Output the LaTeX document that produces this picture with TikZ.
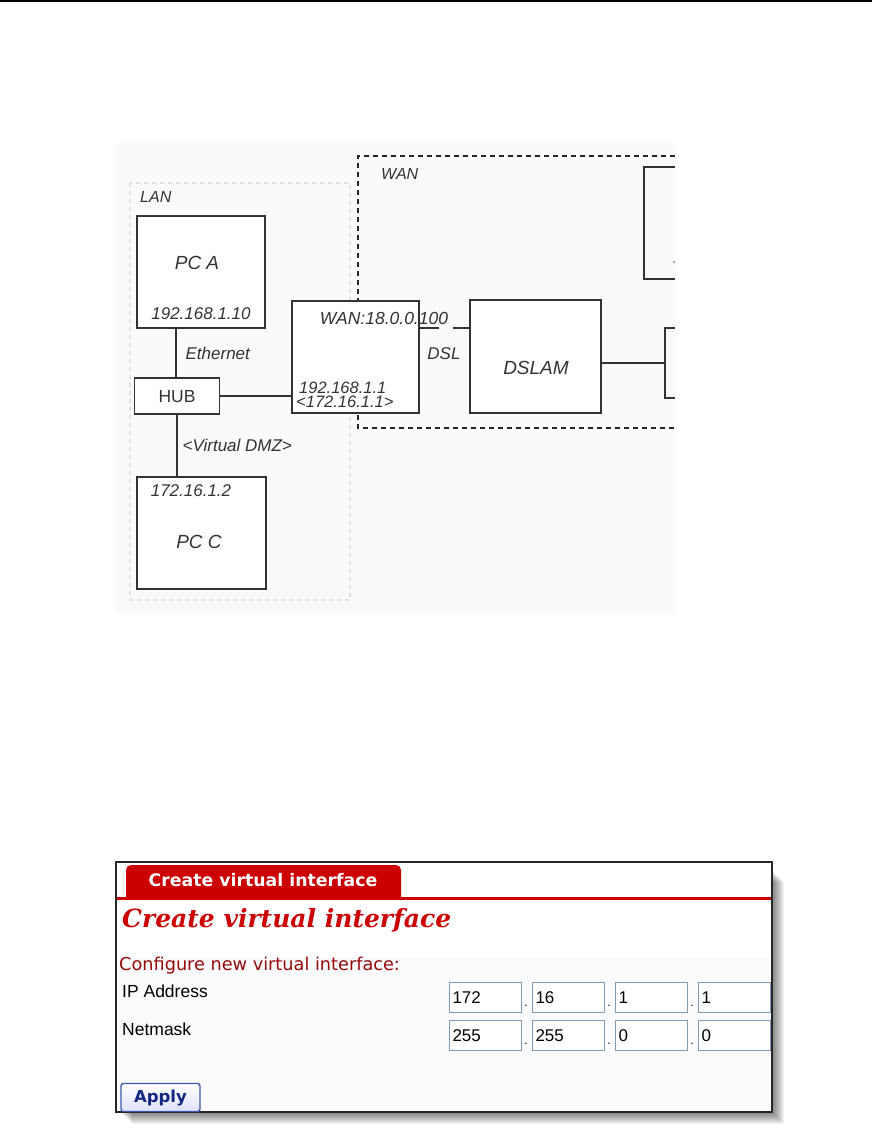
\documentclass[tikz,border=0pt]{standalone}
\usepackage{fontspec}
\setmainfont{Liberation Sans}
\newfontfamily\webfont{DejaVu Sans}
\newfontfamily\headfont{DejaVu Serif}
\usepackage{tikz}
\usetikzlibrary{positioning}
\definecolor{tabred}{RGB}{204,0,0}
\definecolor{darkred}{RGB}{150,10,10}
\definecolor{fieldblue}{RGB}{127,157,185}
\definecolor{btnblue}{RGB}{20,40,130}
\definecolor{btnedge}{RGB}{60,90,170}
\definecolor{panelbg}{RGB}{251,250,253}
\definecolor{diagbg}{RGB}{250,250,250}
\tikzset{
  dev/.style={draw=black!80, line width=1.3pt, fill=white, inner sep=0pt},
  wire/.style={black!80, line width=1.3pt},
  lbl/.style={font=\itshape\fontsize{17}{17}\selectfont, inner sep=0pt, text=black!80},
  big/.style={font=\itshape\fontsize{19}{19}\selectfont, inner sep=0pt, text=black!80},
  field/.style={draw=fieldblue, line width=1pt, fill=white, minimum width=72, minimum height=30,
    text width=66, align=left, inner sep=3pt, font=\fontsize{17}{17}\selectfont, anchor=north west},
  webtxt/.style={font=\fontsize{17.5}{17.5}\selectfont, inner sep=0pt, anchor=west}
}
\begin{document}
\begin{tikzpicture}[x=1pt,y=-1pt]
\useasboundingbox (0,0) rectangle (872,1135);
\draw[line width=2pt] (0,1) -- (872,1);

% network diagram
\fill[diagbg] (115,143) rectangle (675,613);
\draw[gray!25, line width=2.5pt, dash pattern=on 4pt off 4pt] (130,183) rectangle (350,600);
\draw[black!85, line width=1.4pt, dash pattern=on 5pt off 4pt] (675,156) -- (358,156) -- (358,428) -- (675,428);
\node[lbl, anchor=west, font=\itshape\fontsize{16}{16}\selectfont] (lan) at (140,197) {LAN};
\node[lbl, anchor=west, font=\itshape\fontsize{16}{16}\selectfont] (wan) at (381,174) {WAN};

\node[dev, minimum width=128, minimum height=112] (pca) at (201,272) {};
\node[big] (pcaname) at (197,263) {PC A};
\node[lbl] (pcaip) at (201,314) {192.168.1.10};

\node[dev, minimum width=85, minimum height=36] (hub) at (177,396) {};
\node[font=\fontsize{17.5}{17.5}\selectfont, inner sep=0pt, text=black!80] (hubname) at (177,397) {HUB};

\node[dev, minimum width=127, minimum height=112] (router) at (355.5,357) {};
\node[lbl, font=\itshape\fontsize{17.5}{17.5}\selectfont] (wanip) at (384,318) {WAN:18.0.0.100};
\node[lbl, align=left, anchor=west, font=\itshape\fontsize{16.5}{14.5}\selectfont] (lanip) at (296,395) {\hspace*{3pt}192.168.1.1\\<172.16.1.1>};

\node[dev, minimum width=131, minimum height=113] (dslam) at (535.5,356.5) {};
\node[big] (dslamname) at (536,368) {DSLAM};

\node[dev, minimum width=129, minimum height=112] (pcc) at (201.5,533) {};
\node[big] (pccname) at (199,542) {PC C};
\node[lbl] (pccip) at (191,491) {172.16.1.2};

\draw[wire] (pca.south -| 176,0) -- (hub.north -| 176,0) node[midway, right=9pt, lbl] (eth) {Ethernet};
\draw[wire] (hub.east) -- (hub.east -| router.west);
\draw[wire] (hub.south) -- (hub.south |- pcc.north) node[midway, right=5pt, lbl] (dmz) {<Virtual DMZ>};
\draw[wire, dash pattern=on 19pt off 14pt on 20pt] (router.east |- 0,328) -- (dslam.west |- 0,328);
\node[lbl] (dsl) at (444,354) {DSL};

% cut-off boxes at the right edge
\coordinate (brk) at (665,363);
\draw[wire] (dslam.east |- brk) -- (brk);
\draw[wire] (675,328) -| (665,398) -- (675,398);
\draw[wire] (675,167) -| (644,279) -- (675,279);
\fill[black!70] (674,262) circle (0.8pt);

% web form screenshot
\foreach \s in {1,...,12}{
  \fill[black, opacity=0.05] (120+\s,870+\s) rectangle (772+\s,1112+\s);
}
\fill[white] (116,862) rectangle (772,958);
\fill[panelbg] (116,958) rectangle (772,1112);

\fill[tabred] (126,899) {[rounded corners=5pt] -- (126,865) -- (401,865)} -- (401,899) -- cycle;
\node[font=\webfont\bfseries\fontsize{17.3}{17.3}\selectfont, text=white, inner sep=0pt] (tab) at (263,880) {Create virtual interface};
\draw[tabred, line width=3pt] (117,898) -- (771,898);
\node[font=\headfont\bfseries\itshape\fontsize{25}{25}\selectfont, text=tabred, inner sep=0pt, anchor=base west] (title) at (122,927) {Create virtual interface};
\node[font=\webfont\fontsize{17.7}{17.7}\selectfont, text=darkred, inner sep=0pt, anchor=west] (conf) at (119,966) {Configure new virtual interface:};

\node[webtxt] (iplbl) at (122,991) {IP Address};
\node[webtxt] (nmlbl) at (122,1029) {Netmask};

\foreach \fx/\va/\vb [count=\i] in {449/172/255, 532/16/255, 615/1/0, 698/1/0}{
  \node[field] (ip\i) at (\fx,982) {\va};
  \node[field] (nm\i) at (\fx,1020) {\vb};
}
\foreach \dx [count=\i] in {526,609,692}{
  \node[inner sep=0pt, font=\fontsize{12}{12}\selectfont] (ipdot\i) at (\dx,1006) {.};
  \node[inner sep=0pt, font=\fontsize{12}{12}\selectfont] (nmdot\i) at (\dx,1044) {.};
}
\draw[black!85, line width=1.8pt] (116,862) rectangle (772,1112);

\node[draw=btnedge, line width=1.4pt, rounded corners=2.5pt, top color=white, bottom color=blue!12,
  minimum width=79, minimum height=28, inner sep=0pt,
  font=\webfont\bfseries\fontsize{16.5}{16.5}\selectfont, text=btnblue] (apply) at (160.5,1097.5) {Apply};
\end{tikzpicture}
\end{document}
